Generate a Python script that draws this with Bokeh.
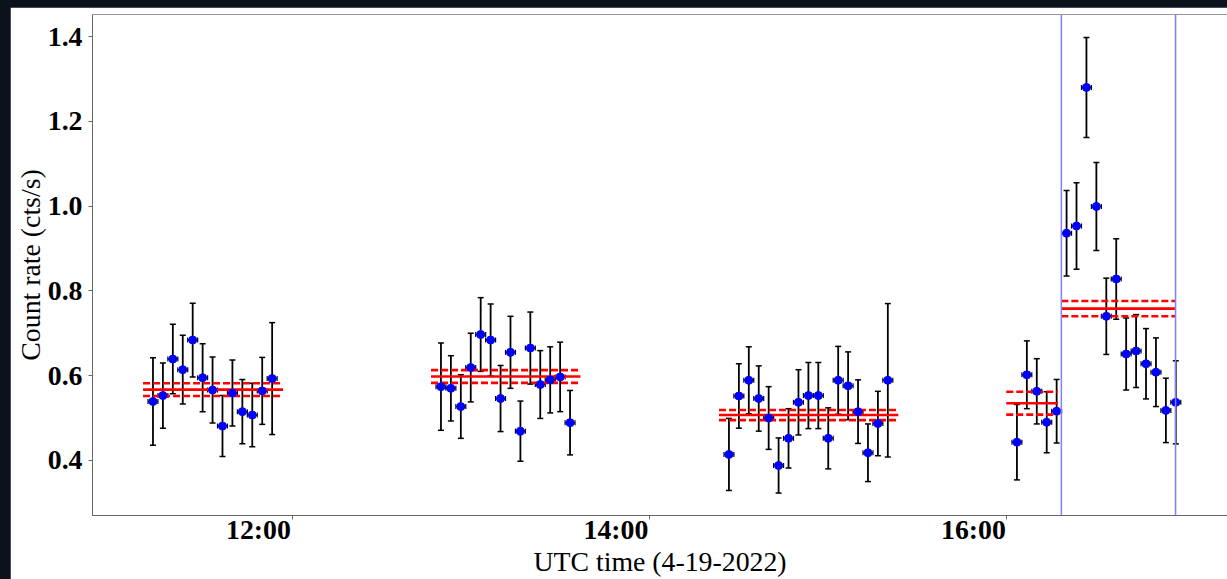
import pandas as pd
from bokeh.plotting import figure
from bokeh.models import (Range1d, FixedTicker, LinearAxis, Whisker, TeeHead,
                          ColumnDataSource, Span)
from bokeh.layouts import column
from bokeh.embed import file_html
from bokeh.resources import INLINE

DAY = "2022-04-19"

# ---- data ----
times = [
    # segment 1
    "11:13:20", "11:16:40", "11:20:00", "11:23:20", "11:26:40", "11:30:00", "11:33:20",
    "11:36:40", "11:40:00", "11:43:20", "11:46:40", "11:50:00", "11:53:20",
    # segment 2
    "12:50:00", "12:53:20", "12:56:40", "13:00:00", "13:03:20", "13:06:40", "13:10:00",
    "13:13:20", "13:16:40", "13:20:00", "13:23:20", "13:26:40", "13:30:00", "13:33:20",
    # segment 3
    "14:26:40", "14:30:00", "14:33:20", "14:36:40", "14:40:00", "14:43:20", "14:46:40",
    "14:50:00", "14:53:20", "14:56:40", "15:00:00", "15:03:20", "15:06:40", "15:10:00",
    "15:13:20", "15:16:40", "15:20:00",
    # segment 4
    "16:03:20", "16:06:40", "16:10:00", "16:13:20", "16:16:40", "16:20:00", "16:23:20",
    "16:26:40", "16:30:00", "16:33:20", "16:36:40", "16:40:00", "16:43:20", "16:46:40",
    "16:50:00", "16:53:20", "16:56:40",
]
rate = [
    0.539, 0.553, 0.639, 0.614, 0.684, 0.595, 0.566, 0.481, 0.559, 0.515, 0.507, 0.564, 0.593,
    0.574, 0.570, 0.527, 0.619, 0.697, 0.684, 0.546, 0.655, 0.469, 0.665, 0.579, 0.590, 0.597, 0.489,
    0.414, 0.552, 0.589, 0.546, 0.500, 0.388, 0.452, 0.537, 0.553, 0.553, 0.452, 0.589, 0.576,
    0.515, 0.418, 0.487, 0.589,
    0.443, 0.602, 0.563, 0.490, 0.516, 0.936, 0.953, 1.280, 0.999, 0.740, 0.828, 0.651, 0.658,
    0.628, 0.608, 0.518, 0.537,
]
rate_err = [
    0.103, 0.077, 0.082, 0.081, 0.087, 0.080, 0.078, 0.072, 0.078, 0.076, 0.075, 0.079, 0.132,
    0.103, 0.077, 0.075, 0.081, 0.087, 0.085, 0.078, 0.085, 0.071, 0.085, 0.080, 0.078, 0.082, 0.076,
    0.085, 0.076, 0.079, 0.077, 0.074, 0.065, 0.070, 0.077, 0.078, 0.078, 0.072, 0.080, 0.080,
    0.075, 0.068, 0.076, 0.181,
    0.089, 0.080, 0.077, 0.072, 0.075, 0.101, 0.102, 0.118, 0.104, 0.090, 0.095, 0.085, 0.086,
    0.083, 0.081, 0.076, 0.098,
]
bin_half_s = 100  # half width of each time bin (s)

mean_start = ["11:10:00", "12:46:40", "14:23:20", "15:59:45", "16:18:15"]
mean_end = ["11:57:00", "13:36:50", "15:23:30", "16:17:05", "16:56:35"]
mean_rate = [0.567, 0.598, 0.507, 0.535, 0.758]
mean_err = [0.015, 0.015, 0.012, 0.027, 0.018]

flare_bounds = ["16:18:15", "16:56:35"]

x_tick_times = ["12:00", "14:00", "16:00"]
x_tick_labels = ["12:00", "14:00", "16:00"]
y_ticks = [0.4, 0.6, 0.8, 1.0, 1.2, 1.4]
y_tick_labels = ["0.4", "0.6", "0.8", "1.0", "1.2", "1.4"]

x_view = ["10:53:02", "17:14:01"]
y_view = [0.270, 1.452]

# ---- helpers ----
def ts(t):
    return pd.Timestamp(f"{DAY} {t}")

def ms(t):
    return ts(t).value / 1e6

t = [ts(s) for s in times]
half = pd.Timedelta(seconds=bin_half_s)
src = ColumnDataSource(dict(
    t=t, rate=rate,
    lo=[r - e for r, e in zip(rate, rate_err)],
    hi=[r + e for r, e in zip(rate, rate_err)],
    t_lo=[x - half for x in t], t_hi=[x + half for x in t],
))
msrc = ColumnDataSource(dict(
    x0=[ts(s) for s in mean_start], x1=[ts(s) for s in mean_end],
    y=mean_rate,
    ylo=[m - e for m, e in zip(mean_rate, mean_err)],
    yhi=[m + e for m, e in zip(mean_rate, mean_err)],
))

SERIF = "Liberation Serif"
FS = "27.8px"
FRAME_W = 1135  # px width of plot frame

x0v, x1v = ms(x_view[0]), ms(x_view[1])
p = figure(width=1217, height=572, x_axis_type="datetime",
           x_range=Range1d(x0v, x1v),
           y_range=Range1d(*y_view),
           output_backend="svg", toolbar_location=None,
           min_border_left=82, min_border_right=0, min_border_top=7, min_border_bottom=64)
p.margin = (7, 0, 0, 10)
p.outline_line_color = None
p.xgrid.visible = False
p.ygrid.visible = False
p.background_fill_color = "white"
p.border_fill_color = "white"

AX = "#666666"
# x axis 1: tick marks at the tick times, no labels
xt = [ms(s + ":00") for s in x_tick_times]
ax1 = p.xaxis[0]
ax1.ticker = FixedTicker(ticks=xt)
ax1.major_label_overrides = {v: "" for v in xt}
ax1.major_label_text_font_size = "0px"
ax1.major_label_standoff = 0
ax1.major_tick_out = 4
ax1.major_tick_in = 0
ax1.minor_tick_line_color = None
ax1.axis_line_color = AX
ax1.major_tick_line_color = AX

# x axis 2: labels right-aligned to the ticks (matplotlib ha="right") + axis title
ms_per_px = (x1v - x0v) / FRAME_W
shift = 33.5 * ms_per_px
lab_pos = [v - shift for v in xt]
ax2 = LinearAxis(ticker=FixedTicker(ticks=lab_pos),
                 major_label_overrides={v: s for v, s in zip(lab_pos, x_tick_labels)},
                 axis_line_color=None, major_tick_line_color=None, minor_tick_line_color=None,
                 major_tick_out=0, major_tick_in=0, major_label_standoff=-6,
                 major_label_text_font=SERIF, major_label_text_font_style="bold",
                 major_label_text_font_size=FS, major_label_text_color="black",
                 axis_label="UTC time (4-19-2022)", axis_label_standoff=-2,
                 axis_label_text_font=SERIF, axis_label_text_font_style="normal",
                 axis_label_text_font_size=FS, axis_label_text_color="black")
p.add_layout(ax2, "below")

p.yaxis.ticker = FixedTicker(ticks=y_ticks)
p.yaxis.major_label_overrides = {v: s for v, s in zip(y_ticks, y_tick_labels)}
p.yaxis.major_tick_out = 4
p.yaxis.major_tick_in = 0
p.yaxis.minor_tick_line_color = None
p.yaxis.axis_line_color = AX
p.yaxis.major_tick_line_color = AX
p.yaxis.major_label_text_font = SERIF
p.yaxis.major_label_text_font_style = "bold"
p.yaxis.major_label_text_font_size = FS
p.yaxis.major_label_text_color = "black"
p.yaxis.major_label_standoff = 6
p.yaxis.axis_label = "Count rate (cts/s)"
p.yaxis.axis_label_text_font = SERIF
p.yaxis.axis_label_text_font_style = "normal"
p.yaxis.axis_label_text_font_size = FS
p.yaxis.axis_label_text_color = "black"
p.yaxis.axis_label_standoff = -1

top = LinearAxis(ticker=FixedTicker(ticks=[]), axis_line_color="#999999",
                 major_tick_line_color=None, minor_tick_line_color=None,
                 major_tick_out=0, major_label_standoff=0, major_label_text_font_size="0px")
p.add_layout(top, "above")

# error bars
p.add_layout(Whisker(source=src, base="t", lower="lo", upper="hi", dimension="height",
                     line_color="black", line_width=1.8,
                     upper_head=TeeHead(size=6, line_color="black", line_width=1.5),
                     lower_head=TeeHead(size=6, line_color="black", line_width=1.5)))
p.add_layout(Whisker(source=src, base="rate", lower="t_lo", upper="t_hi", dimension="width",
                     line_color="black", line_width=1.5,
                     upper_head=TeeHead(size=5, line_color="black", line_width=1.2),
                     lower_head=TeeHead(size=5, line_color="black", line_width=1.2)))

# mean levels
p.segment("x0", "y", "x1", "y", source=msrc, line_color="red", line_width=2.6)
p.segment("x0", "ylo", "x1", "ylo", source=msrc, line_color="red", line_width=2.6, line_dash="7 3")
p.segment("x0", "yhi", "x1", "yhi", source=msrc, line_color="red", line_width=2.6, line_dash="7 3")

p.scatter("t", "rate", source=src, size=8, color="blue")

for b in flare_bounds:
    p.add_layout(Span(location=ms(b), dimension="height", line_color="#7f7fff", line_width=1.5))

layout = column(p, styles={"background-color": "#0c121c"})
open("out.html", "w").write(file_html(layout, INLINE))
